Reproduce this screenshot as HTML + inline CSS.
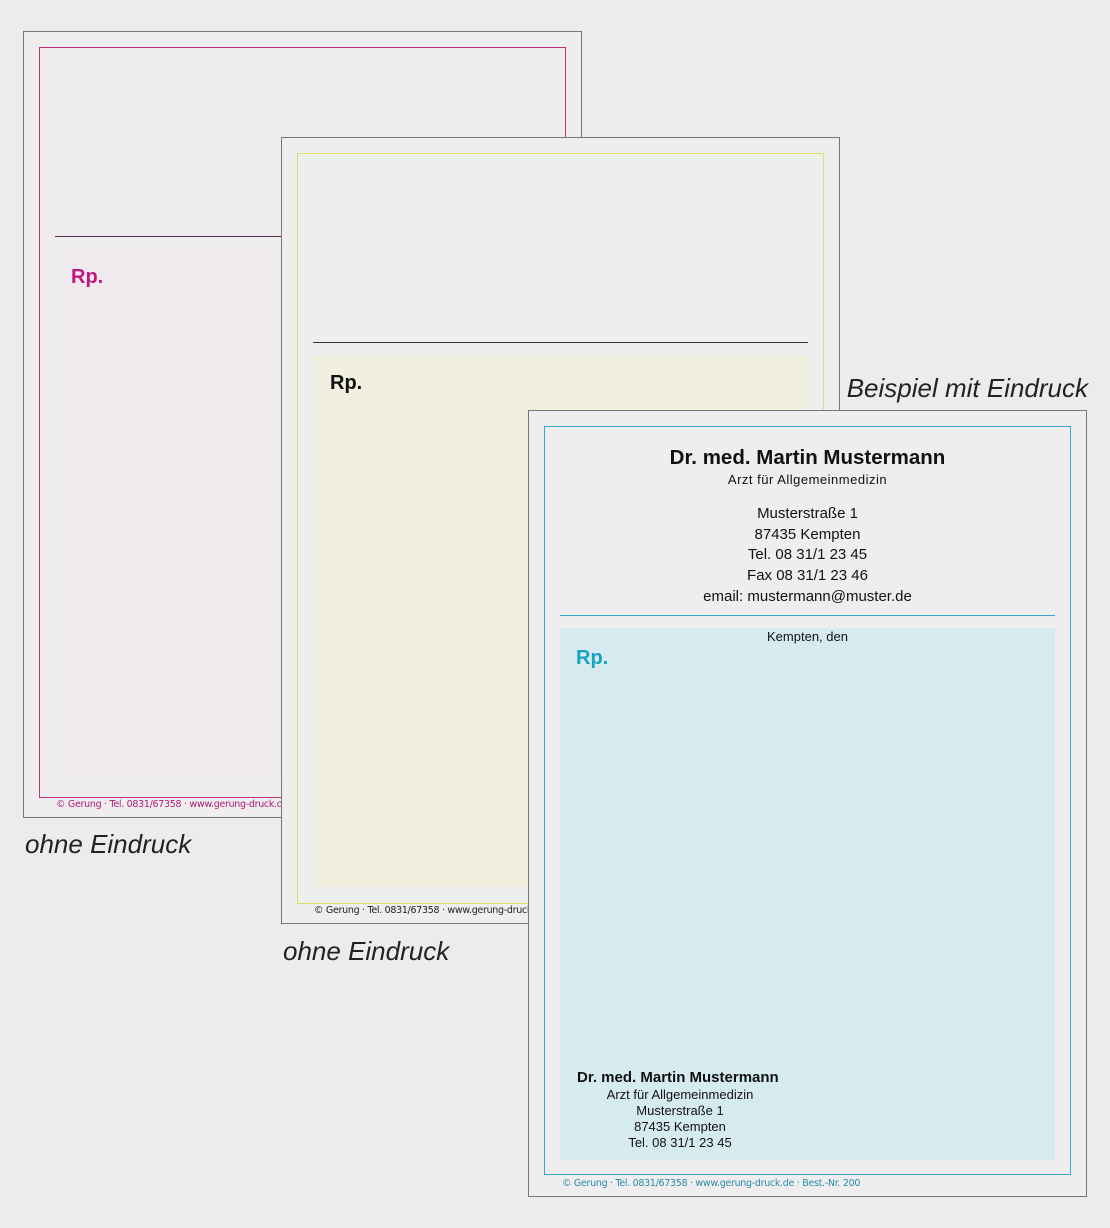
<!DOCTYPE html>
<html><head><meta charset="utf-8"><style>
*{margin:0;padding:0;box-sizing:border-box}
body{width:1110px;height:1228px;background:#ececec;position:relative;overflow:hidden;font-family:"Liberation Sans",sans-serif}
.a{position:absolute}
.sheet{position:absolute;width:559px;height:787px;border:1px solid #777;background:#eeeeee}
.lab{position:absolute;font-family:"Liberation Sans",sans-serif;font-style:italic;font-size:26px;color:#222;white-space:nowrap}
.foot{position:absolute;font-size:9.5px;white-space:nowrap;font-family:"DejaVu Sans",sans-serif;letter-spacing:-0.3px}
.rp{position:absolute;font-weight:bold;font-size:20px}
.c{position:absolute;text-align:center;white-space:nowrap;color:#111}
</style></head><body>
<!-- sheet 1 -->
<div class="sheet" style="left:23px;top:31px"></div>
<div class="a" style="left:39px;top:47px;width:527px;height:751px;border:1px solid #c0307f"></div>
<div class="a" style="left:55px;top:250px;width:240px;height:530px;background:#eeeaee"></div>
<div class="a" style="left:55px;top:236px;width:230px;height:1px;background:#5a2a55"></div>
<div class="rp" style="left:71px;top:266px;color:#c0187e">Rp.</div>
<div class="foot" style="left:56px;top:799px;color:#b01a78">© Gerung · Tel. 0831/67358 · www.gerung-druck.de ·</div>
<div class="lab" style="left:25px;top:829px">ohne Eindruck</div>
<!-- sheet 2 -->
<div class="sheet" style="left:281px;top:137px"></div>
<div class="a" style="left:297px;top:153px;width:527px;height:751px;border:1px solid #dede60"></div>
<div class="a" style="left:313px;top:356px;width:495px;height:531px;background:#f0efe0"></div>
<div class="a" style="left:313px;top:342px;width:495px;height:1px;background:#333"></div>
<div class="rp" style="left:330px;top:372px;color:#111">Rp.</div>
<div class="foot" style="left:314px;top:905px;color:#222">© Gerung · Tel. 0831/67358 · www.gerung-druck.de</div>
<div class="lab" style="left:283px;top:936px">ohne Eindruck</div>
<div class="lab" style="right:22px;top:373px">Beispiel mit Eindruck</div>
<!-- sheet 3 -->
<div class="sheet" style="left:528px;top:410px"></div>
<div class="a" style="left:544px;top:426px;width:527px;height:749px;border:1px solid #3aa8cc"></div>
<div class="a" style="left:560px;top:628px;width:495px;height:532px;background:#d6ebef"></div>
<div class="a" style="left:560px;top:615px;width:495px;height:1px;background:#3aa8cc"></div>
<div class="c" style="left:544px;width:527px;top:446px;font-weight:bold;font-size:20.5px">Dr. med. Martin Mustermann</div>
<div class="c" style="left:544px;width:527px;top:472px;font-size:13px;letter-spacing:0.5px">Arzt für Allgemeinmedizin</div>
<div class="c" style="left:544px;width:527px;top:504px;font-size:15px;line-height:20.7px">Musterstraße 1<br>87435 Kempten<br>Tel. 08 31/1 23 45<br>Fax 08 31/1 23 46<br>email: mustermann@muster.de</div>
<div class="c" style="left:544px;width:527px;top:629px;font-size:13px">Kempten, den</div>
<div class="rp" style="left:576px;top:647px;color:#1aa0c4">Rp.</div>
<div class="a" style="left:577px;top:1069px;font-weight:bold;font-size:15px;color:#111">Dr. med. Martin Mustermann</div>
<div class="c" style="left:578px;width:204px;top:1087px;font-size:13px;line-height:16px">Arzt für Allgemeinmedizin<br>Musterstraße 1<br>87435 Kempten<br>Tel. 08 31/1 23 45</div>
<div class="foot" style="left:562px;top:1178px;color:#2a8aaa">© Gerung · Tel. 0831/67358 · www.gerung-druck.de · Best.-Nr. 200</div>
</body></html>
